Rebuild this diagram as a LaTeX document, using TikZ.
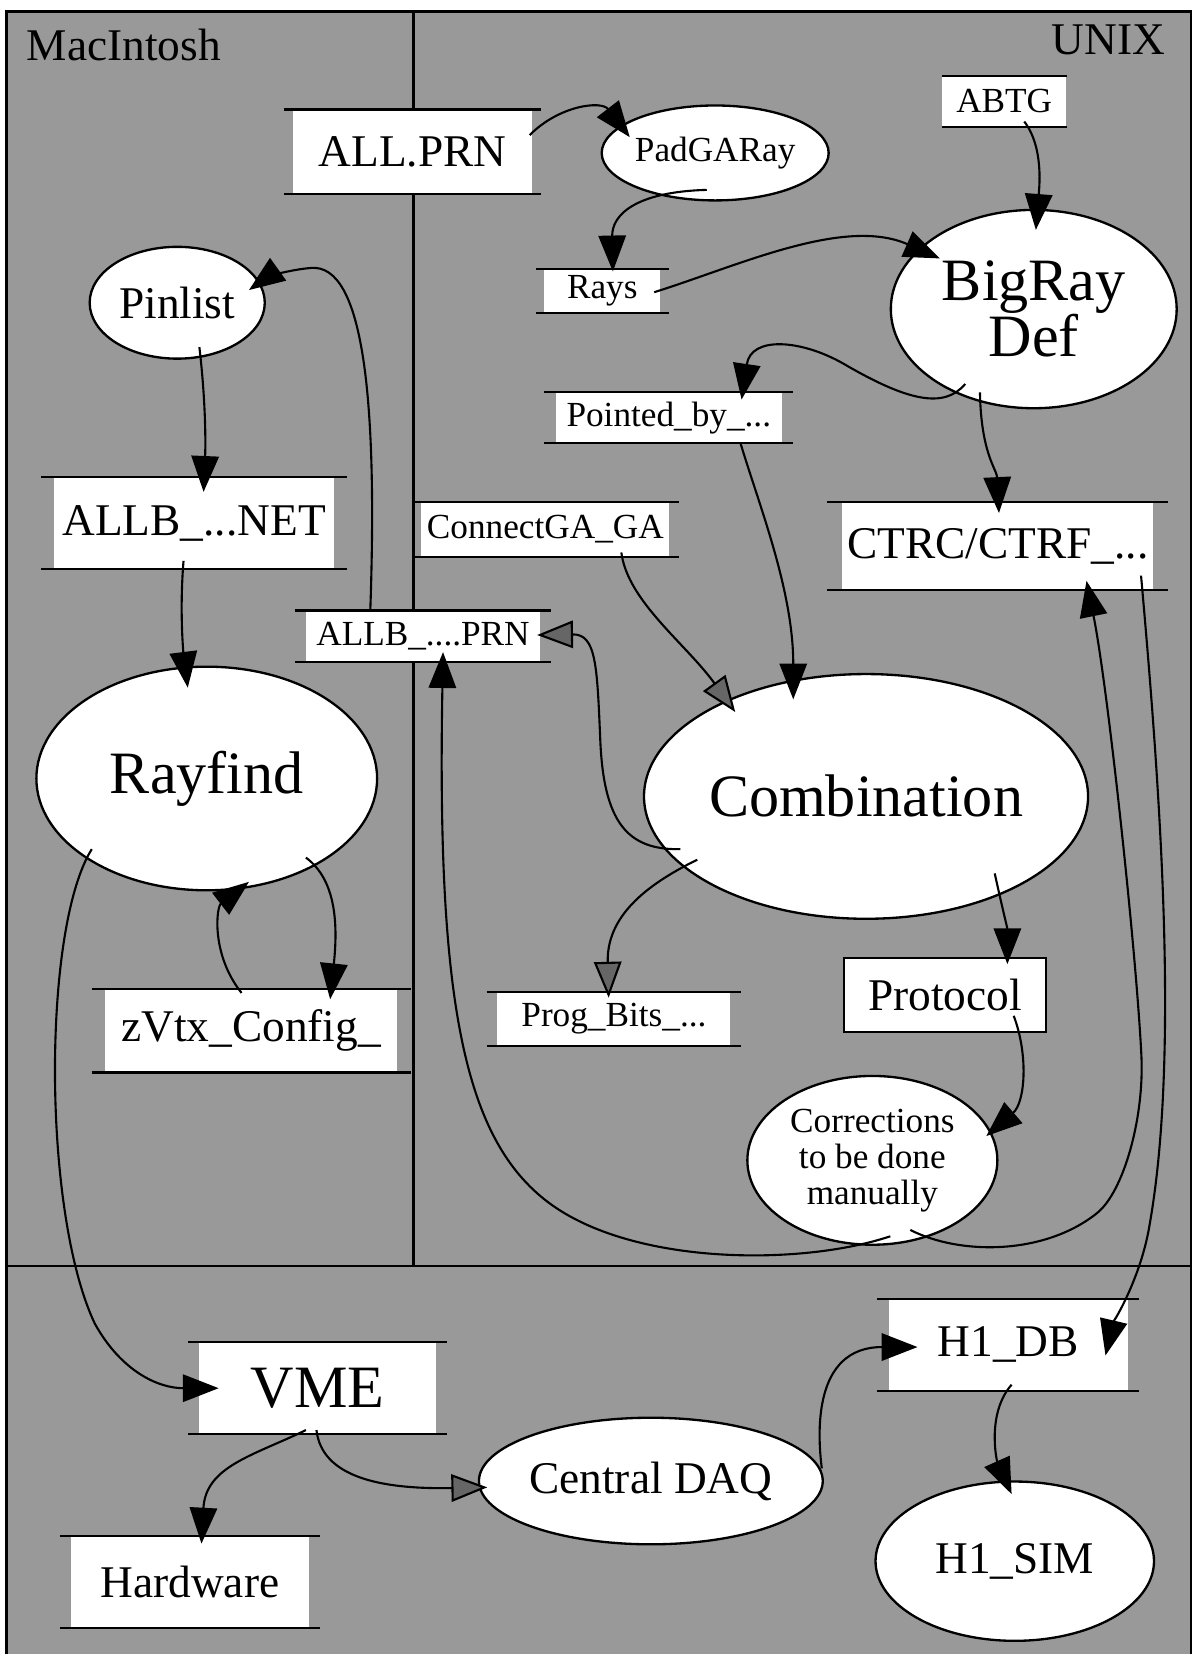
\documentclass[tikz,border=0pt]{standalone}
\usepackage{fontspec}
\setmainfont{Liberation Serif}
\usetikzlibrary{arrows.meta,shapes.geometric}

\begin{document}
\begin{tikzpicture}[x=1pt, y=-1pt,
  txtsml/.style={font=\fontsize{33.4}{34}\selectfont},
  txtmed/.style={font=\fontsize{43}{46}\selectfont},
  txtbig/.style={font=\fontsize{57}{53}\selectfont},
  store/.style={fill=white, inner sep=0pt},
  proc/.style={ellipse, draw, fill=white, line width=2.2pt, inner sep=0pt},
  sz/.style 2 args={minimum width=#1pt, minimum height=#2pt},
  flow/.style={line width=2pt, -{Triangle[length=34pt, width=26pt]}},
  dflow/.style={line width=2pt, -{Triangle[length=34pt, width=26pt, fill=black!60]}}]
\useasboundingbox (0,0) rectangle (1136,1568);
% background and frame
\fill[black!40] (6,11) rectangle (1129,1568);
\draw[line width=2.4pt] (6,1568) -- (6,11) -- (1129,11) -- (1129,1568);
\draw[line width=2pt] (392,11) -- (392,1200);
\draw[line width=2.4pt] (6,1200) -- (1129,1200);
\node[txtmed, anchor=base west] (mac) at (22,57) {MacIntosh};
\node[txtmed, anchor=base east] (unix) at (1108,52) {UNIX};
% nodes
\node[store, sz={226}{80}, txtmed] (allprn) at (391,144) {ALL.PRN};
\node[proc, sz={213}{90}, txtsml] (padgaray) at (678,145) {PadGARay};
\node[store, sz={118}{48}, txtsml] (abtg) at (952,96) {ABTG};
\node[proc, sz={271}{188}, txtbig, align=center] (bigray) at (980,293) {BigRay\\Def};
\node[store, sz={110}{41}, txtsml] (rays) at (571,276) {Rays};
\node[proc, sz={166}{106}, txtmed] (pinlist) at (168,287) {Pinlist};
\node[store, sz={214}{48}, txtsml] (pointed) at (634,396) {Pointed\_by\_...};
\node[store, sz={265}{87}, txtmed] (allbnet) at (184,496) {ALLB\_...NET};
\node[store, sz={235}{51}, txtsml] (connect) at (517,502) {ConnectGA\_GA};
\node[store, sz={295}{83}, txtmed] (ctrc) at (946,518) {CTRC/CTRF\_...};
\node[store, sz={222}{48}, txtsml] (allbprn) at (401,603) {ALLB\_....PRN};
\node[proc, sz={323}{212}, txtbig] (rayfind) at (196,738) {Rayfind};
\node[proc, sz={414}{232}, txtbig] (combination) at (821,755) {Combination};
\node[store, sz={276}{79}, txtmed] (zvtx) at (238,977) {zVtx\_Config\_};
\node[store, sz={221}{50}, txtsml] (progbits) at (582,966) {Prog\_Bits\_...};
\node[store, draw, line width=2pt, sz={192}{70}, txtmed] (protocol) at (896,943) {Protocol};
\node[proc, sz={237}{160}, txtsml, align=center] (corrections) at (827,1100) {Corrections\\to be done\\manually};
\node[store, sz={225}{87}, txtbig] (vme) at (301,1316) {VME};
\node[proc, sz={272}{120}, txtmed] (central) at (617,1404) {Central DAQ};
\node[store, sz={226}{87}, txtmed] (hardware) at (180,1500) {Hardware};
\node[store, sz={226}{87}, txtmed] (h1db) at (956,1275) {H1\_DB};
\node[proc, sz={264}{151}, txtmed] (h1sim) at (962,1480) {H1\_SIM};
% lines above and below the stores
\foreach \n/\e in {allprn/9,abtg/0,rays/8,pointed/11,allbnet/12,connect/9,ctrc/14,allbprn/10,zvtx/13,progbits/10,vme/10,hardware/10,h1db/11}
  \draw[line width=2pt] ([xshift=-\e pt]\n.north west) -- ([xshift=\e pt]\n.north east)
    ([xshift=-\e pt]\n.south west) -- ([xshift=\e pt]\n.south east);
% connectors
\draw[flow] ([shift={(-2,-16)}]allprn.east) .. controls (530,100) and (570,95) .. ([shift={(-81,-15)}]padgaray.center);
\draw[flow] ([shift={(-8,35)}]padgaray.center) .. controls (600,182) and (580,205) .. ([shift={(10,2)}]rays.north);
\draw[flow] ([shift={(-6,1)}]rays.east) .. controls (700,252) and (800,205) .. ([shift={(-89,-48)}]bigray.center);
\draw[flow] ([shift={(19,-5)}]abtg.south) .. controls (990,140) and (985,180) .. ([shift={(2,20)}]bigray.north);
\draw[flow] ([shift={(-65,71)}]bigray.center) .. controls (895,388) and (860,380) .. (800,345)
  .. controls (760,322) and (712,318) .. ([shift={(69,7)}]pointed.north);
\draw[flow] ([shift={(-51,79)}]bigray.center) .. controls (930,430) and (945,445) .. ([shift={(1,10)}]ctrc.north);
\draw[flow] ([shift={(21,42)}]pinlist.center) .. controls (195,380) and (195,420) .. ([shift={(9,14)}]allbnet.north);
\draw[flow] ([shift={(-50,1)}]allbprn.north) .. controls (358,380) and (345,250) .. (295,254)
  .. controls (270,256) and (250,265) .. ([shift={(68,-12)}]pinlist.center);
\draw[flow] ([shift={(-10,-8)}]allbnet.south) .. controls (170,580) and (174,620) .. ([shift={(-18,21)}]rayfind.north);
\draw[flow] ([shift={(94,75)}]rayfind.center) .. controls (320,835) and (320,880) .. ([shift={(75,10)}]zvtx.north);
\draw[flow] ([shift={(-9,4)}]zvtx.north) .. controls (200,905) and (205,860) .. ([shift={(40,98)}]rayfind.center);
\draw[flow] ([shift={(-109,67)}]rayfind.center) .. controls (40,880) and (40,1150) .. (90,1255)
  .. controls (115,1300) and (150,1316) .. ([shift={(19,0)}]vme.west);
\draw[dflow] ([shift={(72,-4)}]connect.south) .. controls (595,570) and (650,610) .. ([shift={(-124,-80)}]combination.center);
\draw[flow] ([shift={(68,0)}]pointed.south) .. controls (720,480) and (752,560) .. ([shift={(-69,-92)}]combination.center);
\draw[dflow] ([shift={(-176,50)}]combination.center) .. controls (595,806) and (572,780) .. (569,700)
  .. controls (566,630) and (565,601) .. ([shift={(-3,-1)}]allbprn.east);
\draw[dflow] ([shift={(-160,60)}]combination.center) .. controls (610,840) and (575,870) .. ([shift={(-5,5)}]progbits.north);
\draw[flow] ([shift={(122,73)}]combination.center) .. controls (950,860) and (955,880) .. ([shift={(59,7)}]protocol.north);
\draw[flow] ([shift={(65,-16)}]protocol.south) .. controls (975,1000) and (972,1045) .. ([shift={(108,-23)}]corrections.center);
\draw[flow] ([shift={(17,72)}]corrections.center) .. controls (760,1200) and (600,1200) .. (520,1140)
  .. controls (440,1080) and (414,950) .. ([shift={(19,-9)}]allbprn.south);
\draw[flow] ([shift={(36,66)}]corrections.center) .. controls (910,1190) and (990,1190) .. (1040,1150)
  .. controls (1065,1130) and (1085,1060) .. (1082,1000)
  .. controls (1077,900) and (1050,650) .. ([shift={(84,-9)}]ctrc.south);
\draw[flow] ([shift={(-12,-14)}]ctrc.south east) .. controls (1100,750) and (1118,1000) .. (1090,1160)
  .. controls (1082,1211) and (1055,1255) .. ([shift={(92,10)}]h1db.center);
\draw[flow] ([shift={(-11,-4)}]vme.south) .. controls (240,1380) and (195,1390) .. ([shift={(11,7)}]hardware.north);
\draw[dflow] ([shift={(-1,-4)}]vme.south) .. controls (305,1400) and (360,1412) .. ([shift={(9,6)}]central.west);
\draw[flow] ([shift={(-2,-12)}]central.east) .. controls (775,1360) and (770,1277) .. ([shift={(27,2)}]h1db.west);
\draw[flow] ([shift={(3,-6)}]h1db.south) .. controls (935,1340) and (945,1385) .. ([shift={(-3,13)}]h1sim.north);
\end{tikzpicture}
\end{document}
